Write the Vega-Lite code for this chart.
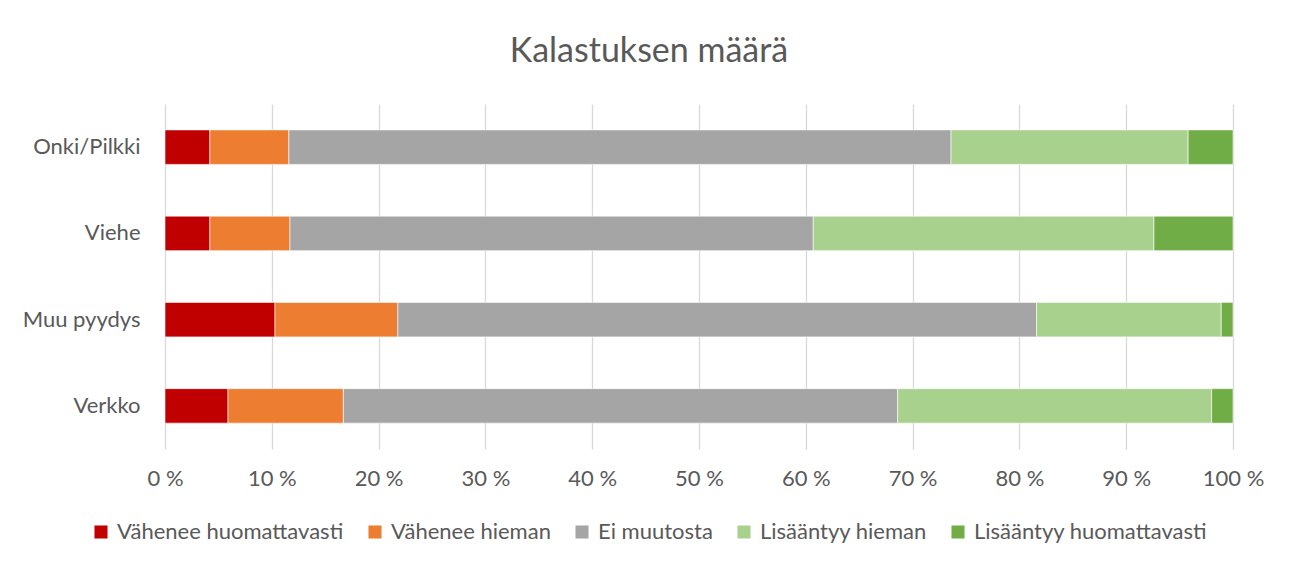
{
  "$schema": "https://vega.github.io/schema/vega-lite/v6.json",
  "width": 1068,
  "height": 345,
  "autosize": {"type": "none"},
  "padding": {"left": 165, "top": 104, "right": 59, "bottom": 118},
  "background": "white",
  "title": {
    "text": "Kalastuksen määrä",
    "anchor": "middle",
    "dx": -50,
    "offset": 35,
    "font": "Lato",
    "fontSize": 34,
    "fontWeight": "normal",
    "color": "#595959"
  },
  "data": {
    "values": [
      {"kategoria": "Onki/Pilkki", "vastaus": "Vähenee huomattavasti", "j": 1, "osuus": 4.2},
      {"kategoria": "Onki/Pilkki", "vastaus": "Vähenee hieman", "j": 2, "osuus": 7.4},
      {"kategoria": "Onki/Pilkki", "vastaus": "Ei muutosta", "j": 3, "osuus": 62.0},
      {"kategoria": "Onki/Pilkki", "vastaus": "Lisääntyy hieman", "j": 4, "osuus": 22.2},
      {"kategoria": "Onki/Pilkki", "vastaus": "Lisääntyy huomattavasti", "j": 5, "osuus": 4.2},
      {"kategoria": "Viehe", "vastaus": "Vähenee huomattavasti", "j": 1, "osuus": 4.2},
      {"kategoria": "Viehe", "vastaus": "Vähenee hieman", "j": 2, "osuus": 7.5},
      {"kategoria": "Viehe", "vastaus": "Ei muutosta", "j": 3, "osuus": 49.0},
      {"kategoria": "Viehe", "vastaus": "Lisääntyy hieman", "j": 4, "osuus": 31.9},
      {"kategoria": "Viehe", "vastaus": "Lisääntyy huomattavasti", "j": 5, "osuus": 7.4},
      {"kategoria": "Muu pyydys", "vastaus": "Vähenee huomattavasti", "j": 1, "osuus": 10.3},
      {"kategoria": "Muu pyydys", "vastaus": "Vähenee hieman", "j": 2, "osuus": 11.5},
      {"kategoria": "Muu pyydys", "vastaus": "Ei muutosta", "j": 3, "osuus": 59.8},
      {"kategoria": "Muu pyydys", "vastaus": "Lisääntyy hieman", "j": 4, "osuus": 17.3},
      {"kategoria": "Muu pyydys", "vastaus": "Lisääntyy huomattavasti", "j": 5, "osuus": 1.1},
      {"kategoria": "Verkko", "vastaus": "Vähenee huomattavasti", "j": 1, "osuus": 5.9},
      {"kategoria": "Verkko", "vastaus": "Vähenee hieman", "j": 2, "osuus": 10.8},
      {"kategoria": "Verkko", "vastaus": "Ei muutosta", "j": 3, "osuus": 51.9},
      {"kategoria": "Verkko", "vastaus": "Lisääntyy hieman", "j": 4, "osuus": 29.4},
      {"kategoria": "Verkko", "vastaus": "Lisääntyy huomattavasti", "j": 5, "osuus": 2.0}
    ]
  },
  "mark": {"type": "bar", "stroke": "white", "strokeWidth": 0.6},
  "encoding": {
    "y": {
      "field": "kategoria",
      "type": "nominal",
      "sort": ["Onki/Pilkki", "Viehe", "Muu pyydys", "Verkko"],
      "scale": {"paddingInner": 0.6, "paddingOuter": 0.3},
      "axis": {
        "title": null,
        "domain": false,
        "ticks": false,
        "labelPadding": 25,
        "labelFont": "Lato",
        "labelFontSize": 22,
        "labelColor": "#595959",
        "grid": false
      }
    },
    "x": {
      "field": "osuus",
      "type": "quantitative",
      "stack": "zero",
      "scale": {"domain": [0, 100], "nice": false},
      "axis": {
        "title": null,
        "values": [0, 10, 20, 30, 40, 50, 60, 70, 80, 90, 100],
        "labelExpr": "datum.value + ' %'",
        "labelFlush": false,
        "domain": false,
        "ticks": false,
        "grid": true,
        "gridColor": "#D9D9D9",
        "gridWidth": 1.3,
        "labelPadding": 19,
        "labelFont": "Lato",
        "labelFontSize": 22,
        "labelColor": "#595959"
      }
    },
    "color": {
      "field": "vastaus",
      "type": "nominal",
      "sort": ["Vähenee huomattavasti", "Vähenee hieman", "Ei muutosta", "Lisääntyy hieman", "Lisääntyy huomattavasti"],
      "scale": {
        "domain": ["Vähenee huomattavasti", "Vähenee hieman", "Ei muutosta", "Lisääntyy hieman", "Lisääntyy huomattavasti"],
        "range": ["#C00000", "#ED7D31", "#A5A5A5", "#A9D18E", "#70AD47"]
      },
      "legend": {
        "title": null,
        "orient": "none",
        "direction": "horizontal",
        "legendX": -75,
        "legendY": 417,
        "symbolType": "square",
        "symbolSize": 170,
        "symbolStrokeWidth": 0,
        "labelFont": "Lato",
        "labelFontSize": 22,
        "labelColor": "#595959",
        "labelOffset": 5,
        "columnPadding": 20,
        "labelLimit": 400
      }
    },
    "order": {"field": "j", "type": "quantitative"}
  },
  "config": {
    "view": {"stroke": null}
  }
}
